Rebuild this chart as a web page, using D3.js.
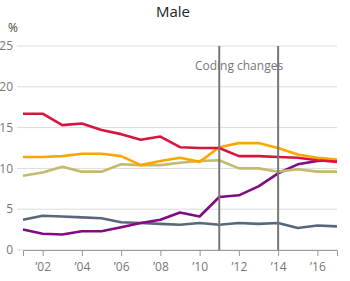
<!DOCTYPE html>
<html>
<head>
<meta charset="utf-8">
<script src="https://cdn.jsdelivr.net/npm/d3@7"></script>
<style>
  body { margin: 0; background: #fff; }
  text { font-family: "Open Sans", sans-serif; }
</style>
</head>
<body>
<script>
// Chart data
var years = [2001, 2002, 2003, 2004, 2005, 2006, 2007, 2008, 2009, 2010, 2011, 2012, 2013, 2014, 2015, 2016, 2017];
var redSeries    = [16.7, 16.7, 15.3, 15.5, 14.7, 14.2, 13.5, 13.9, 12.6, 12.5, 12.5, 11.5, 11.5, 11.4, 11.3, 11.0, 10.8];
var orangeSeries = [11.4, 11.4, 11.5, 11.8, 11.8, 11.5, 10.4, 10.9, 11.3, 10.8, 12.6, 13.1, 13.1, 12.5, 11.7, 11.3, 11.1];
var khakiSeries  = [9.1, 9.5, 10.2, 9.6, 9.6, 10.5, 10.4, 10.4, 10.7, 10.9, 11.0, 10.0, 10.0, 9.6, 9.9, 9.6, 9.6];
var greySeries   = [3.7, 4.2, 4.1, 4.0, 3.9, 3.4, 3.3, 3.2, 3.1, 3.3, 3.1, 3.3, 3.2, 3.3, 2.7, 3.0, 2.9];
var purpleSeries = [2.5, 2.0, 1.9, 2.3, 2.3, 2.8, 3.3, 3.7, 4.6, 4.1, 6.5, 6.7, 7.8, 9.4, 10.5, 10.9, 11.0];
var xTicks = [2002, 2004, 2006, 2008, 2010, 2012, 2014, 2016];
var yTicks = [0, 5, 10, 15, 20, 25];
var codingYears = [2011, 2014];

var width = 350, height = 281;

var svg = d3.select('body').append('svg')
  .attr('width', width)
  .attr('height', height);

var x = d3.scaleLinear().domain([2001, 2017]).range([23, 337]);
var y = d3.scaleLinear().domain([0, 25]).range([250, 46]);

// title
svg.append('text')
  .attr('x', 173).attr('y', 17)
  .attr('text-anchor', 'middle')
  .style('font-size', '15px')
  .style('fill', '#222')
  .text('Male');

svg.append('text')
  .attr('x', 13).attr('y', 32)
  .attr('text-anchor', 'middle')
  .style('font-size', '12px')
  .style('fill', '#444')
  .text('%');

// gridlines + y labels
svg.append('g').selectAll('line')
  .data(yTicks)
  .enter().append('line')
  .attr('x1', 17).attr('x2', 337)
  .attr('y1', function (d) { return y(d); })
  .attr('y2', function (d) { return y(d); })
  .style('stroke', '#dcdcdc')
  .style('stroke-width', 1);

svg.append('g').selectAll('text')
  .data(yTicks)
  .enter().append('text')
  .attr('x', 13)
  .attr('y', function (d) { return y(d); })
  .attr('dy', '0.35em')
  .attr('text-anchor', 'end')
  .style('font-size', '12px')
  .style('fill', '#777')
  .text(function (d) { return d; });

// x axis
var xAxis = svg.append('g')
  .attr('transform', 'translate(0,' + y(0) + ')')
  .call(d3.axisBottom(x)
    .tickValues(xTicks)
    .tickFormat(function (d) { return '\u2019' + String(d).slice(2); }));
xAxis.select('.domain').style('stroke', '#999');
xAxis.selectAll('.tick line').style('stroke', '#999');
xAxis.selectAll('.tick text')
  .attr('y', 12)
  .style('font-size', '12px')
  .style('font-family', '"Open Sans", sans-serif')
  .style('fill', '#777');

// lines
var line = d3.line()
  .x(function (d, i) { return x(years[i]); })
  .y(function (d) { return y(d); });

var series = [
  { values: greySeries, color: '#56687a' },
  { values: purpleSeries, color: '#820a82' },
  { values: khakiSeries, color: '#c4b96e' },
  { values: orangeSeries, color: '#ffa500' },
  { values: redSeries, color: '#d7153c' }
];

svg.append('g').selectAll('path')
  .data(series)
  .enter().append('path')
  .attr('d', function (d) { return line(d.values); })
  .style('fill', 'none')
  .style('stroke', function (d) { return d.color; })
  .style('stroke-width', 2.6)
  .style('stroke-linejoin', 'round');

// coding change markers
svg.append('g').selectAll('line')
  .data(codingYears)
  .enter().append('line')
  .attr('x1', function (d) { return x(d); })
  .attr('x2', function (d) { return x(d); })
  .attr('y1', y(25)).attr('y2', y(0))
  .style('stroke', '#777')
  .style('stroke-width', 2);

svg.append('text')
  .attr('x', 239).attr('y', 70)
  .attr('text-anchor', 'middle')
  .style('font-size', '12px')
  .style('fill', '#777')
  .text('Coding changes');
</script>
</body>
</html>
